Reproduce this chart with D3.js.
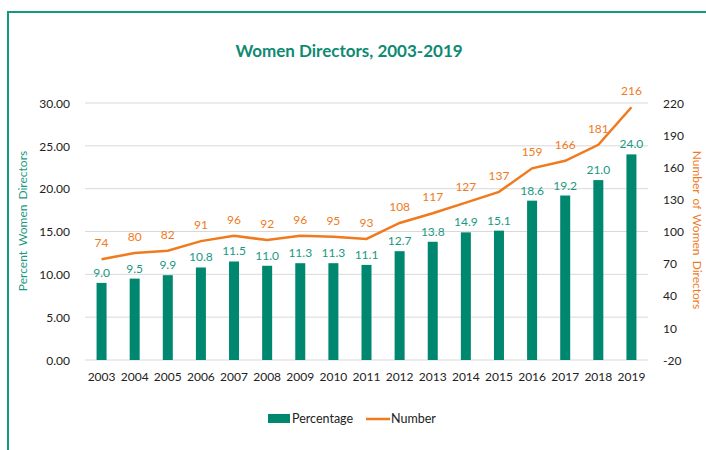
<!DOCTYPE html>
<html>
<head>
<meta charset="utf-8">
<script src="https://cdn.jsdelivr.net/npm/d3@7"></script>
<style>
  body { margin: 0; background: #fff; }
  text { font-family: Lato, "Open Sans", sans-serif; }
</style>
</head>
<body>
<div id="chart"></div>
<script>
// data
var years = ["2003", "2004", "2005", "2006", "2007", "2008", "2009", "2010", "2011",
  "2012", "2013", "2014", "2015", "2016", "2017", "2018", "2019"];
var percentage = [9.0, 9.5, 9.9, 10.8, 11.5, 11.0, 11.3, 11.3, 11.1,
  12.7, 13.8, 14.9, 15.1, 18.6, 19.2, 21.0, 24.0];
var number = [74, 80, 82, 91, 96, 92, 96, 95, 93, 108, 117, 127, 137, 159, 166, 181, 216];
var leftTicks = [0, 5, 10, 15, 20, 25, 30];
var rightTicks = [-20, 10, 40, 70, 100, 130, 160, 190, 220];

var width = 706, height = 450;
var teal = "#00876F", tealText = "#1A9982", orange = "#F07A1E";
var margin = { left: 85, right: 58, top: 103, bottom: 90 };

var svg = d3.select("#chart").append("svg")
  .attr("width", width)
  .attr("height", height);

// frame (cut off at right and bottom like the screenshot)
svg.append("rect")
  .attr("x", 8).attr("y", 12)
  .attr("width", 720).attr("height", 470)
  .attr("fill", "none")
  .attr("stroke", "#139A80")
  .attr("stroke-width", 2);

svg.append("text")
  .attr("x", 349).attr("y", 57)
  .attr("text-anchor", "middle")
  .attr("fill", "#0E8A72")
  .style("font-size", "17px")
  .style("font-weight", "bold")
  .text("Women Directors, 2003-2019");

var x = d3.scaleBand()
  .domain(years)
  .range([margin.left, width - margin.right]);

var yL = d3.scaleLinear().domain([0, 30]).range([height - margin.bottom, margin.top]);
var yR = d3.scaleLinear().domain([-20, 220]).range([height - margin.bottom, margin.top]);

// gridlines
svg.append("g").selectAll("line")
  .data(leftTicks)
  .enter().append("line")
  .attr("x1", margin.left).attr("x2", width - margin.right)
  .attr("y1", function(d) { return yL(d); })
  .attr("y2", function(d) { return yL(d); })
  .attr("stroke", "#D9D9D9")
  .attr("stroke-width", 1);

// left axis
var leftAxis = svg.append("g")
  .attr("transform", "translate(" + (margin.left - 12) + ",0)")
  .call(d3.axisLeft(yL).tickValues(leftTicks).tickFormat(d3.format(".2f")).tickSize(0));
leftAxis.select(".domain").remove();
leftAxis.selectAll("text").style("font-size", "12px").attr("fill", "#222").attr("dy", "0.35em");

// right axis (plain hyphen for negatives, like the original)
var rightAxis = svg.append("g")
  .attr("transform", "translate(" + (width - margin.right + 12) + ",0)")
  .call(d3.axisRight(yR).tickValues(rightTicks).tickFormat(function(d) { return String(d); }).tickSize(0));
rightAxis.select(".domain").remove();
rightAxis.selectAll("text").style("font-size", "12px").attr("fill", "#222").attr("dy", "0.35em");

// x axis
var xAxis = svg.append("g")
  .attr("transform", "translate(0," + (height - margin.bottom) + ")")
  .call(d3.axisBottom(x).tickSize(0).tickPadding(12));
xAxis.select(".domain").remove();
xAxis.selectAll("text").style("font-size", "12px").attr("fill", "#222");

// bars
var barW = 10;
svg.append("g").selectAll("rect")
  .data(percentage)
  .enter().append("rect")
  .attr("x", function(d, i) { return x(years[i]) + x.bandwidth() / 2 - barW / 2; })
  .attr("y", function(d) { return yL(d); })
  .attr("width", barW)
  .attr("height", function(d) { return yL(0) - yL(d); })
  .attr("fill", teal);

svg.append("g").selectAll("text")
  .data(percentage)
  .enter().append("text")
  .attr("x", function(d, i) { return x(years[i]) + x.bandwidth() / 2; })
  .attr("y", function(d) { return yL(d) - 6; })
  .attr("text-anchor", "middle")
  .attr("fill", tealText)
  .style("font-size", "12px")
  .text(function(d) { return d.toFixed(1); });

// line
var line = d3.line()
  .x(function(d, i) { return x(years[i]) + x.bandwidth() / 2; })
  .y(function(d) { return yR(d); });

svg.append("path")
  .datum(number)
  .attr("d", line)
  .attr("fill", "none")
  .attr("stroke", orange)
  .attr("stroke-width", 2.5);

svg.append("g").selectAll("text")
  .data(number)
  .enter().append("text")
  .attr("x", function(d, i) { return x(years[i]) + x.bandwidth() / 2; })
  .attr("y", function(d) { return yR(d) - 12; })
  .attr("text-anchor", "middle")
  .attr("fill", orange)
  .style("font-size", "12px")
  .text(function(d) { return d; });

// axis titles
svg.append("text")
  .attr("transform", "translate(27,221) rotate(-90)")
  .attr("text-anchor", "middle")
  .attr("fill", tealText)
  .style("font-size", "12px")
  .style("word-spacing", "2px")
  .text("Percent Women Directors");

svg.append("text")
  .attr("transform", "translate(693,230) rotate(90)")
  .attr("text-anchor", "middle")
  .attr("fill", orange)
  .style("font-size", "12px")
  .style("word-spacing", "2px")
  .text("Number of Women Directors");

// legend
var legend = svg.append("g");
legend.append("rect")
  .attr("x", 268).attr("y", 414)
  .attr("width", 22).attr("height", 9)
  .attr("fill", teal);
legend.append("text")
  .attr("x", 292).attr("y", 423)
  .attr("fill", "#222")
  .style("font-size", "12.5px")
  .text("Percentage");
legend.append("line")
  .attr("x1", 366).attr("x2", 390)
  .attr("y1", 419).attr("y2", 419)
  .attr("stroke", orange)
  .attr("stroke-width", 2.5);
legend.append("text")
  .attr("x", 391).attr("y", 423)
  .attr("fill", "#222")
  .style("font-size", "12.5px")
  .text("Number");
</script>
</body>
</html>
